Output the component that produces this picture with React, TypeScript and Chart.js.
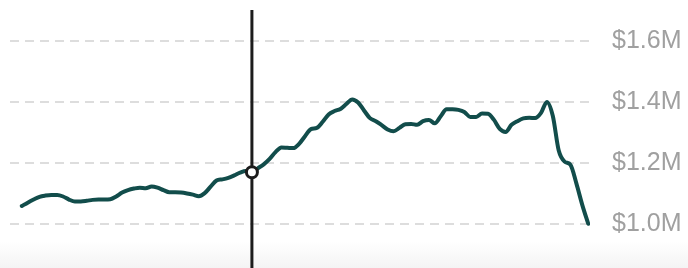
import React, { useEffect, useRef } from "react";
import { Chart, registerables } from "chart.js";

Chart.register(...registerables);

const days: number[] = Array.from({ length: 97 }, (_, i) => i);

const values: number[] = [
  1.060, 1.071, 1.081, 1.090, 1.094, 1.096, 1.096, 1.091, 1.081, 1.075,
  1.075, 1.077, 1.080, 1.081, 1.081, 1.082, 1.091, 1.104, 1.112, 1.117,
  1.120, 1.118, 1.124, 1.120, 1.112, 1.105, 1.105, 1.104, 1.101, 1.097,
  1.092, 1.102, 1.123, 1.143, 1.147, 1.152, 1.160, 1.169, 1.174, 1.170,
  1.183, 1.196, 1.214, 1.236, 1.251, 1.250, 1.249, 1.263, 1.288, 1.311,
  1.315, 1.335, 1.359, 1.370, 1.377, 1.393, 1.408, 1.398, 1.372, 1.347,
  1.337, 1.324, 1.310, 1.304, 1.315, 1.327, 1.328, 1.325, 1.337, 1.341,
  1.330, 1.353, 1.376, 1.376, 1.374, 1.367, 1.351, 1.351, 1.362, 1.361,
  1.342, 1.312, 1.302, 1.325, 1.337, 1.346, 1.348, 1.347, 1.364, 1.400,
  1.354, 1.241, 1.205, 1.194, 1.133, 1.063, 1.002,
];

const tickValues: number[] = [1.0, 1.2, 1.4, 1.6];
const highlightIndex = 39;

const verticalLinePlugin = {
  id: "verticalLine",
  beforeDatasetsDraw(chart: any) {
    const { ctx, scales } = chart;
    const x = scales.x.getPixelForValue(days[highlightIndex]);
    ctx.save();
    ctx.strokeStyle = "#1c1c1c";
    ctx.lineWidth = 3;
    ctx.beginPath();
    ctx.moveTo(x, chart.chartArea.top);
    ctx.lineTo(x, chart.height);
    ctx.stroke();
    ctx.restore();
  },
};

export default function App() {
  const ref = useRef<HTMLCanvasElement | null>(null);
  useEffect(() => {
    if (!ref.current) return;
    const chart = new Chart(ref.current, {
      type: "line",
      data: {
        datasets: [
          {
            data: days.map((d, i) => ({ x: d, y: values[i] })),
            borderColor: "#124d4b",
            borderWidth: 4,
            borderCapStyle: "round",
            borderJoinStyle: "round",
            cubicInterpolationMode: "monotone",
            pointRadius: days.map((_, i) => (i === highlightIndex ? 5.5 : 0)),
            pointBackgroundColor: "#ffffff",
            pointBorderColor: "#1c1c1c",
            pointBorderWidth: 3,
            pointHoverRadius: 0,
            fill: false,
          },
        ],
      },
      options: {
        animation: false,
        responsive: false,
        maintainAspectRatio: false,
        layout: { padding: { left: 10, top: 10, bottom: 13, right: 0 } },
        plugins: { legend: { display: false }, tooltip: { enabled: false } },
        events: [],
        scales: {
          x: {
            type: "linear",
            min: -2,
            max: 96.3,
            display: false,
          },
          y: {
            position: "right",
            min: 0.9,
            max: 1.7,
            border: { display: false, dash: [9, 6] },
            grid: {
              color: "#dddddd",
              lineWidth: 2,
              drawTicks: false,
            },
            afterBuildTicks: (scale: any) => {
              scale.ticks = tickValues.map((v) => ({ value: v }));
            },
            afterFit: (scale: any) => {
              scale.width = 98;
              scale.paddingTop = 0;
              scale.paddingBottom = 0;
            },
            ticks: {
              padding: 22,
              color: "#a0a0a0",
              font: { family: "'Liberation Sans', Arial, sans-serif", size: 25 },
              callback: (v: any) => "$" + Number(v).toFixed(1) + "M",
            },
          },
        },
      },
      plugins: [verticalLinePlugin],
    } as any);
    return () => chart.destroy();
  }, []);
  return (
    <div
      style={{
        position: "fixed",
        left: 0,
        top: 0,
        width: 688,
        height: 268,
        background: "linear-gradient(to bottom, #ffffff 0%, #ffffff 90%, #f4f4f4 100%)",
      }}
    >
      <canvas ref={ref} width={688} height={268} style={{ display: "block" }} />
    </div>
  );
}
